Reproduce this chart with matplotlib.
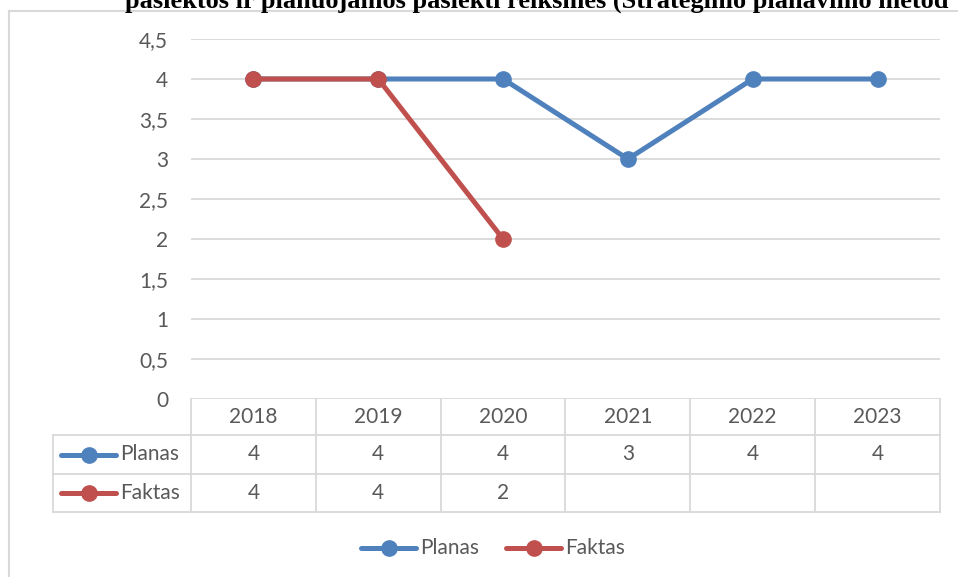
import numpy as np
import matplotlib
matplotlib.use("Agg")
import matplotlib.pyplot as plt

# data
years = ["2018", "2019", "2020", "2021", "2022", "2023"]
planas = [4, 4, 4, 3, 4, 4]
faktas = [4, 4, 2, np.nan, np.nan, np.nan]
y_ticks = [0, 0.5, 1, 1.5, 2, 2.5, 3, 3.5, 4, 4.5]
title = "pasiektos ir planuojamos pasiekti reikšmės (Strateginio planavimo metod"

W, H = 958, 577
BLUE = "#4F81BD"
RED = "#C0504D"
GRID = "#D9D9D9"
TXT = "#595959"
FONT = "Lato"
FS = 15

fig = plt.figure(figsize=(W / 100, H / 100), dpi=100)

# pixel overlay for frame, table and legend
ov = fig.add_axes([0, 0, 1, 1])
ov.set_xlim(0, W)
ov.set_ylim(H, 0)
ov.axis("off")

# chart frame (cut off on right and bottom)
ov.plot([9, 9], [11, H], color=GRID, lw=1.5)
ov.plot([9, W], [11, 11], color=GRID, lw=1.5)

fig.text(125 / W, 1 - 8 / H, title, family="Liberation Serif", weight="bold",
         fontsize=19, va="baseline", ha="left", color="black")

# plot area
x0, x1, ytop, ybot = 191, 940, 39, 399
ax = fig.add_axes([x0 / W, 1 - ybot / H, (x1 - x0) / W, (ybot - ytop) / H])
ax.set_xlim(0, len(years))
ax.set_ylim(0, 4.5)
ax.patch.set_alpha(0)
for s in ax.spines.values():
    s.set_visible(False)
ax.set_xticks([])
ax.set_yticks(y_ticks)
ax.set_yticklabels([("%g" % v).replace(".", ",") for v in y_ticks],
                   fontsize=FS, color=TXT, family=FONT)
ax.tick_params(axis="y", length=0, pad=16.5)
for v in y_ticks:
    ax.axhline(v, color=GRID, lw=1.3, zorder=0)

xs = np.arange(len(years)) + 0.5
ax.plot(xs, planas, color=BLUE, lw=3.6, marker="o", ms=11, zorder=3,
        solid_capstyle="round", clip_on=False)
ax.plot(xs, faktas, color=RED, lw=3.6, marker="o", ms=11, zorder=4,
        solid_capstyle="round", clip_on=False)

# data table under the plot
colw = (x1 - x0) / len(years)
rows_y = [399, 435, 474, 512]
tleft = 53
for i in range(len(years) + 1):
    ov.plot([x0 + i * colw] * 2, [rows_y[0], rows_y[-1]], color=GRID, lw=1.3)
ov.plot([tleft, tleft], [rows_y[1], rows_y[-1]], color=GRID, lw=1.3)
for yy in rows_y[1:]:
    ov.plot([tleft, x1], [yy, yy], color=GRID, lw=1.3)

def fmt(v):
    return "" if np.isnan(v) else ("%g" % v).replace(".", ",")

for i, yr in enumerate(years):
    cx = x0 + (i + 0.5) * colw
    ov.text(cx, (rows_y[0] + rows_y[1]) / 2, yr, ha="center", va="center",
            fontsize=FS, color=TXT, family=FONT)
    ov.text(cx, (rows_y[1] + rows_y[2]) / 2, fmt(planas[i]), ha="center",
            va="center", fontsize=FS, color=TXT, family=FONT)
    ov.text(cx, (rows_y[2] + rows_y[3]) / 2, fmt(float(faktas[i])), ha="center",
            va="center", fontsize=FS, color=TXT, family=FONT)

def key(xl, yc, color, label):
    ov.plot([xl, xl + 55], [yc, yc], color=color, lw=3.6, solid_capstyle="round")
    ov.plot([xl + 28], [yc], color=color, marker="o", ms=11)
    ov.text(xl + 59, yc, label, ha="left", va="center", fontsize=FS,
            color=TXT, family=FONT)

key(61, (rows_y[1] + rows_y[2]) / 2, BLUE, "Planas")
key(61, (rows_y[2] + rows_y[3]) / 2, RED, "Faktas")

# legend at bottom
key(361, 548, BLUE, "Planas")
key(506, 548, RED, "Faktas")

fig.savefig("out.png", dpi=100)
